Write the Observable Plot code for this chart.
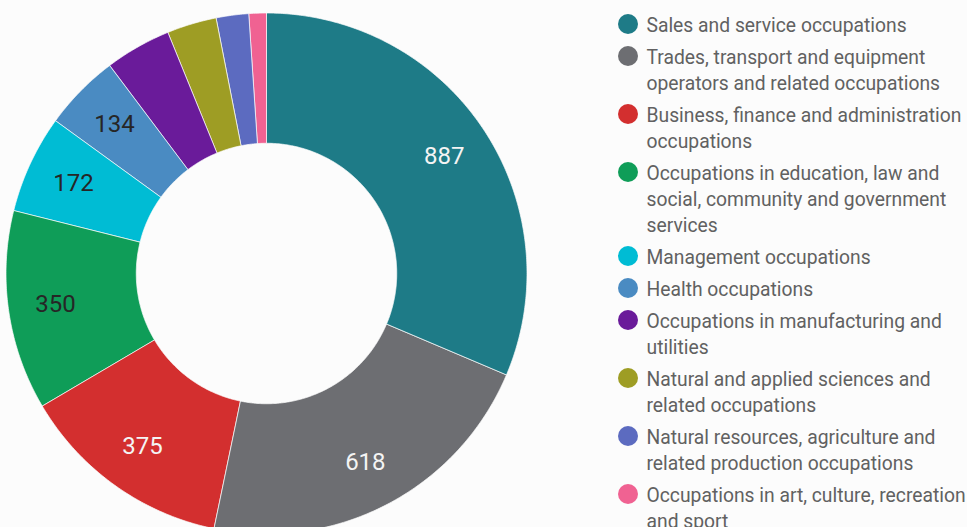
<!DOCTYPE html>
<html>
<head>
<meta charset="utf-8">
<script src="https://cdn.jsdelivr.net/npm/d3@7"></script>
<script src="https://cdn.jsdelivr.net/npm/@observablehq/plot@0.6"></script>
<style>
  html, body { margin: 0; padding: 0; background: #fcfcfc; }
  body { width: 967px; height: 527px; overflow: hidden; position: relative; font-family: Roboto, "Noto Sans", sans-serif; }
  #chart { position: absolute; left: 0; top: 0; }
  #legend { position: absolute; left: 618px; top: 13px; }
  .item { display: flex; align-items: flex-start; margin-bottom: 6px; }
  .sw { width: 20px; height: 20px; border-radius: 50%; margin-top: 1px; flex: none; }
  .lbl { margin-left: 8.5px; font-size: 19.3px; line-height: 26px; color: #616161; white-space: nowrap; }
</style>
</head>
<body>
<div id="chart"></div>
<div id="legend"></div>
<script>
const categories = [
  "Sales and service occupations",
  "Trades, transport and equipment operators and related occupations",
  "Business, finance and administration occupations",
  "Occupations in education, law and social, community and government services",
  "Management occupations",
  "Health occupations",
  "Occupations in manufacturing and utilities",
  "Natural and applied sciences and related occupations",
  "Natural resources, agriculture and related production occupations",
  "Occupations in art, culture, recreation and sport"
];
const values = [887, 618, 375, 350, 172, 134, 116, 87, 57, 30];
const colors = ["#1e7b87", "#6d6e72", "#d32f2f", "#0f9d58", "#00bcd4", "#4a8bc2", "#6a1b9a", "#9e9d24", "#5c6bc0", "#f06292"];
const legendLines = [
  ["Sales and service occupations"],
  ["Trades, transport and equipment", "operators and related occupations"],
  ["Business, finance and administration", "occupations"],
  ["Occupations in education, law and", "social, community and government", "services"],
  ["Management occupations"],
  ["Health occupations"],
  ["Occupations in manufacturing and", "utilities"],
  ["Natural and applied sciences and", "related occupations"],
  ["Natural resources, agriculture and", "related production occupations"],
  ["Occupations in art, culture, recreation", "and sport"]
];

const total = d3.sum(values);
const innerR = 0.5, outerR = 1, labelR = 0.818;
// angles clockwise from 12 o'clock
let acc = 0;
const slices = values.map((v, i) => {
  const a0 = acc / total * 2 * Math.PI;
  acc += v;
  const a1 = acc / total * 2 * Math.PI;
  return {cat: categories[i], value: v, a0, a1, i};
});
const poly = [];
for (const s of slices) {
  const n = Math.max(4, Math.ceil((s.a1 - s.a0) / (Math.PI / 360)));
  for (let k = 0; k <= n; k++) {
    const a = s.a0 + (s.a1 - s.a0) * k / n;
    poly.push({cat: s.cat, x: outerR * Math.sin(a), y: outerR * Math.cos(a)});
  }
  for (let k = n; k >= 0; k--) {
    const a = s.a0 + (s.a1 - s.a0) * k / n;
    poly.push({cat: s.cat, x: innerR * Math.sin(a), y: innerR * Math.cos(a)});
  }
}
const labels = slices.filter(s => s.value / total > 0.045).map(s => {
  const a = (s.a0 + s.a1) / 2;
  const c = colors[s.i];
  return {x: labelR * Math.sin(a), y: labelR * Math.cos(a), text: String(s.value),
          dark: d3.lab(c).l < 52};
});

const chart = Plot.plot({
  width: 600,
  height: 527,
  margin: 0,
  style: {background: "transparent"},
  x: {domain: [-1, 1], range: [5.5, 526.5], axis: null},
  y: {domain: [-1, 1], range: [533.5, 12.5], axis: null},
  color: {domain: categories, range: colors},
  marks: [
    Plot.line(poly, {x: "x", y: "y", z: "cat", fill: "cat", stroke: "#fcfcfc", strokeWidth: 0.7, curve: "linear-closed"}),
    Plot.text(labels, {x: "x", y: "y", text: "text", fill: d => d.dark ? "#f4f4f4" : "#262626",
      fontSize: 24, fontFamily: "Roboto", textAnchor: "middle"})
  ]
});
document.getElementById("chart").appendChild(chart);

const legend = d3.select("#legend");
legendLines.forEach((lines, i) => {
  const item = legend.append("div").attr("class", "item");
  item.append("div").attr("class", "sw").style("background", colors[i]);
  item.append("div").attr("class", "lbl").html(lines.join("<br>"));
});
</script>
</body>
</html>
